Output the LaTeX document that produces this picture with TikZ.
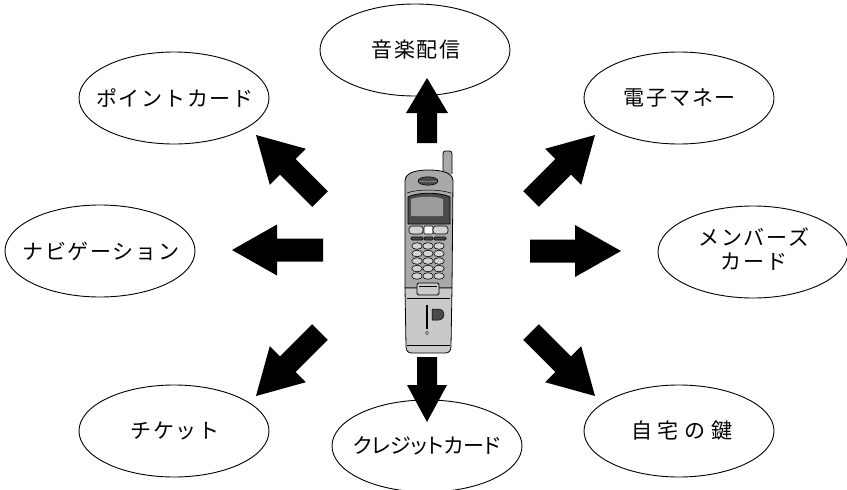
\documentclass[tikz,border=0pt]{standalone}
\usepackage{fontspec}
\newfontfamily\jp{Noto Sans CJK JP}[LetterSpace=8]
\newfontfamily\jptight{Noto Sans CJK JP}[RawFeature=+palt]
\newfontfamily\jpwide{Noto Sans CJK JP}[LetterSpace=28]
\usetikzlibrary{shapes.geometric,calc}

% filled block arrow from tail #1 to tip #2:
% #3 shaft half-width, #4 head half-width, #5 head length
\newcommand\blockarrow[5]{%
  \coordinate (ba-base) at ($(#2)!#5!(#1)$);
  \fill ($(#1)!#3!90:(#2)$) -- ($(ba-base)!#3!90:(#2)$) -- ($(ba-base)!#4!90:(#2)$)
    -- (#2) -- ($(ba-base)!#4!-90:(#2)$) -- ($(ba-base)!#3!-90:(#2)$)
    -- ($(#1)!#3!-90:(#2)$) -- cycle;}
% label of fixed-size ellipse: zero-width centred box (#1 = leading kern
% balancing the letter spacing after the last character)
\newcommand\lbl[2]{\makebox[0pt][c]{\kern#1\relax #2}}

\begin{document}
\begin{tikzpicture}[x=1pt,y=-1pt,
  topic/.style={ellipse, draw, line width=0.9pt, fill=white, inner sep=0pt,
    minimum width=190pt, minimum height=92pt, font=\jp\fontsize{21}{27}\selectfont},
  body/.style={draw=black, line width=0.8pt, line join=round},
  key/.style={draw=black, line width=0.6pt, fill=keygray}]
\definecolor{bodygray}{HTML}{A9A9A9}
\definecolor{lightgray}{HTML}{C9C9C9}
\definecolor{keygray}{HTML}{D2D2D2}
\definecolor{bezel}{HTML}{4A4A4A}
\definecolor{screen}{HTML}{9C9C9C}

\useasboundingbox (0,0) rectangle (847,490);

% topics around the handset
\node[topic] (music)  at (415,50)  {\lbl{1.7pt}{音楽配信}};
\node[topic] (point)  at (174,98)  {\lbl{1.7pt}{ポイントカード}};
\node[topic] (money)  at (679,98)  {\lbl{1.7pt}{電子マネー}};
\node[topic] (navi)   at (100,251) {\lbl{1.7pt}{ナビゲーション}};
\node[topic] (member) at (753,252) {\lbl{1.7pt}{\begin{tabular}{@{}c@{}}メンバーズ\\[-3pt]カード\end{tabular}}};
\node[topic] (ticket) at (174,431) {\lbl{1.7pt}{チケット}};
\node[topic] (credit) at (427,446) {\lbl{0pt}{\jptight\fontsize{21}{27}\selectfont クレジットカード}};
\node[topic] (home)   at (679,431) {\lbl{5.9pt}{\jpwide\fontsize{21}{27}\selectfont 自宅の鍵}};

% ---------- handset ----------
% antenna
\filldraw[body, fill=bodygray, rounded corners=2.5pt] (443,174) -- (443,151) -- (452,151) -- (452,174);
% upper body
\filldraw[body, fill=bodygray] (405,288) -- (405,181)
  .. controls (405,172) and (418,170) .. (428,170)
  .. controls (440,170) and (453,172) .. (453,181) -- (452,288) -- cycle;
\draw[line width=0.5pt] (407,193) .. controls (418,189) and (438,189) .. (451,193);
% earpiece
\filldraw[line width=0.6pt, fill=bezel] (428,181) ellipse (10 and 4.2);
\draw[line width=0.5pt, gray] (419,181) -- (437,181);
% screen
\filldraw[body, fill=bezel] (408,224) -- (408,197)
  .. controls (418,192) and (440,192) .. (450,197) -- (450,224) -- cycle;
\fill[screen] (411,216) -- (411,199) .. controls (420,196) and (436,196) .. (443,199) -- (443,216) -- cycle;
% function keys
\filldraw[key, rounded corners=3pt] (409,226) rectangle (423,234);
\filldraw[key, fill=white, rounded corners=1pt] (424,226) rectangle (433,234);
\filldraw[key, rounded corners=3pt] (433,226) rectangle (448,234);
\filldraw[key, fill=bezel, rounded corners=1pt] (411,237) rectangle (423,240);
\filldraw[key, fill=bezel, rounded corners=1pt] (424,237) rectangle (433,240);
\filldraw[key, fill=bezel, rounded corners=1pt] (434,237) rectangle (446,240);
% keypad
\foreach \ky in {246,253.5,261,268.5,276}
  \foreach \kx in {417,428,439}
    \filldraw[key] (\kx,\ky) ellipse (5.3 and 3.3);
% flip
\filldraw[body, fill=lightgray] (405,288) -- (452,288) -- (451,346)
  .. controls (451,351) and (449,353) .. (445,353) -- (412,353)
  .. controls (408,353) and (406,351) .. (406,346) -- cycle;
\draw[line width=0.5pt] (407,345) -- (450,345);
\draw[line width=0.5pt] (407,298) -- (450,298);
% hinge
\filldraw[body, fill=lightgray, rounded corners=1.5pt] (417,283) rectangle (439,295);
\draw[line width=0.5pt] (419,286) -- (437,286);
% flip details
\draw[line width=1.4pt] (427,305) -- (427,329);
\filldraw[line width=0.5pt, fill=bezel] (432,309) -- (439,309)
  .. controls (443,310) and (444,312) .. (444,314.5)
  .. controls (444,317) and (443,319) .. (439,320) -- (432,320) -- cycle;
\foreach \dx/\dy in {0/-1.5,0/1.5,-1.6/0,1.6/0,0/0}
  \fill (427+\dx,333+\dy) circle (0.55);

% ---------- arrows ----------
\coordinate (t-music)  at (427,143); \coordinate (h-music)  at (427,78);
\coordinate (t-credit) at (427,357); \coordinate (h-credit) at (427,422);
\coordinate (t-navi)   at (323,250); \coordinate (h-navi)   at (232,250);
\coordinate (t-member) at (530,251); \coordinate (h-member) at (621,251);
\coordinate (t-point)  at (320,199); \coordinate (h-point)  at (256,135);
\coordinate (t-money)  at (531,199); \coordinate (h-money)  at (595,135);
\coordinate (t-ticket) at (320,332); \coordinate (h-ticket) at (256,396);
\coordinate (t-home)   at (531,332); \coordinate (h-home)   at (595,396);

\blockarrow{t-music}{h-music}{10pt}{21pt}{35pt}
\blockarrow{t-credit}{h-credit}{10pt}{20pt}{37pt}
\blockarrow{t-navi}{h-navi}{11.5pt}{25.5pt}{45pt}
\blockarrow{t-member}{h-member}{11.5pt}{26pt}{46pt}
\blockarrow{t-point}{h-point}{11pt}{25.5pt}{45pt}
\blockarrow{t-money}{h-money}{11pt}{25.5pt}{45pt}
\blockarrow{t-ticket}{h-ticket}{11pt}{25.5pt}{45pt}
\blockarrow{t-home}{h-home}{11pt}{25.5pt}{45pt}
\end{tikzpicture}
\end{document}
